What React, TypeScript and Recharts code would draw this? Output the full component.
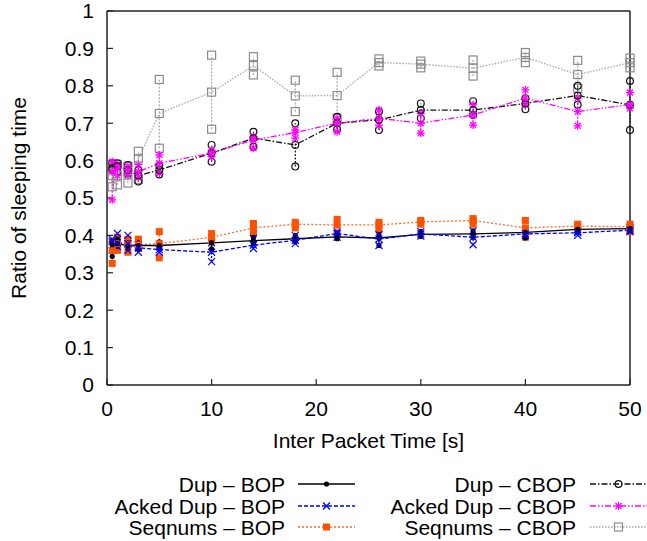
import React from 'react';
import { ComposedChart, Line, Scatter, XAxis, YAxis, ErrorBar } from 'recharts';

const xValues = [0.5, 1, 2, 3, 5, 10, 14, 18, 22, 26, 30, 35, 40, 45, 50];
const xTicks = [0, 10, 20, 30, 40, 50];
const yTicks = [0, 0.1, 0.2, 0.3, 0.4, 0.5, 0.6, 0.7, 0.8, 0.9, 1];
const yTickLabels = ['0', '0.1', '0.2', '0.3', '0.4', '0.5', '0.6', '0.7', '0.8', '0.9', '1'];

// Dup – BOP
const dupBopMid = [0.375, 0.378, 0.372, 0.373, 0.373, 0.38, 0.386, 0.391, 0.396, 0.393, 0.403, 0.404, 0.408, 0.416, 0.418];
const dupBopLow = [0.344, 0.37, 0.365, 0.365, 0.365, 0.364, 0.378, 0.383, 0.391, 0.373, 0.397, 0.395, 0.393, 0.41, 0.412];
const dupBopHigh = [0.385, 0.39, 0.38, 0.38, 0.383, 0.385, 0.395, 0.4, 0.405, 0.402, 0.41, 0.412, 0.413, 0.42, 0.421];

// Acked Dup – BOP
const ackBopMid = [0.384, 0.38, 0.378, 0.367, 0.362, 0.355, 0.374, 0.387, 0.405, 0.39, 0.404, 0.395, 0.404, 0.407, 0.414];
const ackBopLow = [0.36, 0.37, 0.36, 0.355, 0.355, 0.33, 0.365, 0.378, 0.395, 0.373, 0.398, 0.375, 0.4, 0.4, 0.41];
const ackBopHigh = [0.39, 0.405, 0.4, 0.375, 0.37, 0.38, 0.392, 0.4, 0.41, 0.402, 0.41, 0.412, 0.412, 0.41, 0.42];

// Seqnums – BOP
const seqBopMid = [0.36, 0.378, 0.375, 0.375, 0.378, 0.395, 0.42, 0.43, 0.428, 0.428, 0.436, 0.44, 0.42, 0.425, 0.423];
const seqBopLow = [0.325, 0.36, 0.355, 0.365, 0.34, 0.385, 0.405, 0.42, 0.405, 0.415, 0.43, 0.43, 0.395, 0.415, 0.41];
const seqBopHigh = [0.385, 0.395, 0.39, 0.39, 0.41, 0.405, 0.432, 0.435, 0.443, 0.435, 0.44, 0.445, 0.44, 0.43, 0.43];

// Dup – CBOP
const dupCbopMid = [0.58, 0.585, 0.575, 0.56, 0.575, 0.62, 0.66, 0.642, 0.7, 0.709, 0.735, 0.735, 0.753, 0.774, 0.749];
const dupCbopLow = [0.575, 0.57, 0.565, 0.544, 0.563, 0.597, 0.637, 0.584, 0.684, 0.682, 0.713, 0.722, 0.737, 0.749, 0.682];
const dupCbopHigh = [0.593, 0.593, 0.588, 0.575, 0.586, 0.642, 0.677, 0.7, 0.717, 0.731, 0.753, 0.759, 0.767, 0.8, 0.813];

// Acked Dup – CBOP
const ackCbopMid = [0.57, 0.58, 0.575, 0.57, 0.593, 0.62, 0.655, 0.675, 0.7, 0.713, 0.7, 0.722, 0.767, 0.731, 0.75];
const ackCbopLow = [0.495, 0.56, 0.56, 0.555, 0.566, 0.61, 0.633, 0.66, 0.677, 0.695, 0.673, 0.695, 0.749, 0.693, 0.74];
const ackCbopHigh = [0.597, 0.59, 0.585, 0.59, 0.615, 0.628, 0.664, 0.682, 0.713, 0.735, 0.726, 0.749, 0.789, 0.767, 0.782];

// Seqnums – CBOP
const seqCbopMid = [0.56, 0.56, 0.565, 0.605, 0.726, 0.783, 0.854, 0.773, 0.774, 0.862, 0.858, 0.847, 0.876, 0.83, 0.862];
const seqCbopLow = [0.53, 0.535, 0.54, 0.55, 0.633, 0.684, 0.829, 0.731, 0.713, 0.853, 0.848, 0.826, 0.862, 0.793, 0.848];
const seqCbopHigh = [0.59, 0.59, 0.585, 0.625, 0.817, 0.882, 0.878, 0.815, 0.836, 0.872, 0.866, 0.869, 0.889, 0.868, 0.874];

type Marker = 'dot' | 'cross' | 'fsquare' | 'ocircle' | 'star' | 'osquare';

interface SeriesDef {
  key: string;
  name: string;
  color: string;
  lineColor: string;
  dash?: string;
  marker: Marker;
  mid: number[];
  low: number[];
  high: number[];
}

const SERIES: SeriesDef[] = [
  { key: 'seqCbop', name: 'Seqnums – CBOP', color: '#8c8c8c', lineColor: '#a8a8a8', dash: '1.5 1.5', marker: 'osquare', mid: seqCbopMid, low: seqCbopLow, high: seqCbopHigh },
  { key: 'dupCbop', name: 'Dup – CBOP', color: '#111111', lineColor: '#111111', dash: '6 2 1.5 2', marker: 'ocircle', mid: dupCbopMid, low: dupCbopLow, high: dupCbopHigh },
  { key: 'ackCbop', name: 'Acked Dup – CBOP', color: '#ff00ff', lineColor: '#ff00ff', dash: '6 2 1.5 2 1.5 2', marker: 'star', mid: ackCbopMid, low: ackCbopLow, high: ackCbopHigh },
  { key: 'seqBop', name: 'Seqnums – BOP', color: '#ff5000', lineColor: '#ff6a30', dash: '2 2', marker: 'fsquare', mid: seqBopMid, low: seqBopLow, high: seqBopHigh },
  { key: 'dupBop', name: 'Dup – BOP', color: '#000000', lineColor: '#000000', marker: 'dot', mid: dupBopMid, low: dupBopLow, high: dupBopHigh },
  { key: 'ackBop', name: 'Acked Dup – BOP', color: '#0000ff', lineColor: '#0000ff', dash: '4 2', marker: 'cross', mid: ackBopMid, low: ackBopLow, high: ackBopHigh },
];

const LEGEND_COL1 = ['dupBop', 'ackBop', 'seqBop'];
const LEGEND_COL2 = ['dupCbop', 'ackCbop', 'seqCbop'];

const data = xValues.map((x, i) => {
  const row: Record<string, any> = { x };
  SERIES.forEach((s) => {
    row[s.key] = s.mid[i];
    row[s.key + 'Lo'] = s.low[i];
    row[s.key + 'Hi'] = s.high[i];
    row[s.key + 'Err'] = [s.mid[i] - s.low[i], s.high[i] - s.mid[i]];
  });
  return row;
});

const FONT = '"Liberation Sans", Arial, Helvetica, sans-serif';

function drawMarker(m: Marker, cx: number, cy: number, color: string, key?: string) {
  if (cx == null || cy == null || isNaN(cx) || isNaN(cy)) return <g key={key} />;
  switch (m) {
    case 'dot':
      return <circle key={key} cx={cx} cy={cy} r={2.6} fill={color} />;
    case 'cross':
      return (
        <g key={key} stroke={color} strokeWidth={1.2}>
          <line x1={cx - 3.5} y1={cy - 3.5} x2={cx + 3.5} y2={cy + 3.5} />
          <line x1={cx - 3.5} y1={cy + 3.5} x2={cx + 3.5} y2={cy - 3.5} />
        </g>
      );
    case 'fsquare':
      return <rect key={key} x={cx - 3.5} y={cy - 3.5} width={7} height={7} fill={color} />;
    case 'ocircle':
      return <circle key={key} cx={cx} cy={cy} r={3.4} fill="none" stroke={color} strokeWidth={1.2} />;
    case 'star':
      return (
        <g key={key} stroke={color} strokeWidth={1.3}>
          <line x1={cx - 4} y1={cy} x2={cx + 4} y2={cy} />
          <line x1={cx} y1={cy - 4} x2={cx} y2={cy + 4} />
          <line x1={cx - 3} y1={cy - 3} x2={cx + 3} y2={cy + 3} />
          <line x1={cx - 3} y1={cy + 3} x2={cx + 3} y2={cy - 3} />
        </g>
      );
    case 'osquare':
    default:
      return <rect key={key} x={cx - 4} y={cy - 4} width={8} height={8} fill="none" stroke={color} strokeWidth={1.2} />;
  }
}

const tickStyle = { fontFamily: FONT, fontSize: 21, fill: '#000' };

function Legend() {
  const rowsY = [16, 38, 59];
  const renderCol = (keys: string[], textEnd: number, x1: number, x2: number) =>
    keys.map((k, i) => {
      const s = SERIES.find((d) => d.key === k)!;
      const y = rowsY[i];
      return (
        <g key={k}>
          <text x={textEnd} y={y} textAnchor="end" dominantBaseline="central" style={{ fontFamily: FONT, fontSize: 21 }} fill="#000">
            {s.name}
          </text>
          <line x1={x1} y1={y} x2={x2} y2={y} stroke={s.lineColor} strokeWidth={1.3} strokeDasharray={s.dash} />
          {drawMarker(s.marker, (x1 + x2) / 2, y, s.color)}
        </g>
      );
    });
  return (
    <svg width={647} height={72} style={{ position: 'absolute', left: 0, top: 468 }}>
      {renderCol(LEGEND_COL1, 285, 298, 355)}
      {renderCol(LEGEND_COL2, 576, 590, 647)}
    </svg>
  );
}

export default function App() {
  return (
    <div style={{ position: 'fixed', left: 0, top: 0, width: 647, height: 541, background: '#fff' }}>
      <ComposedChart width={647} height={541} data={data} margin={{ top: 0, right: 0, bottom: 0, left: 0 }}>
        <XAxis
          dataKey="x"
          type="number"
          domain={[0, 50]}
          ticks={xTicks}
          interval={0}
          height={156}
          tickSize={-6}
          tickMargin={22}
          tick={tickStyle}
          axisLine={{ stroke: '#222', strokeWidth: 1.5 }}
          tickLine={{ stroke: '#222', strokeWidth: 1.2 }}
          label={{
            content: (p: any) => {
              const vb = p.viewBox || { x: 107, y: 385, width: 523 };
              return (
                <text x={vb.x + vb.width / 2} y={vb.y + 55} textAnchor="middle" dominantBaseline="central" style={{ fontFamily: FONT, fontSize: 21 }} fill="#000">
                  Inter Packet Time [s]
                </text>
              );
            },
          }}
        />
        <XAxis
          xAxisId="top"
          orientation="top"
          type="number"
          domain={[0, 50]}
          ticks={xTicks}
          interval={0}
          height={11}
          tickSize={-6}
          tick={false}
          axisLine={{ stroke: '#222', strokeWidth: 1.5 }}
          tickLine={{ stroke: '#222', strokeWidth: 1.2 }}
        />
        <YAxis
          type="number"
          domain={[0, 1]}
          ticks={yTicks}
          interval={0}
          width={107}
          tickSize={-6}
          tickMargin={19}
          tick={tickStyle}
          tickFormatter={(v: number) => yTickLabels[yTicks.findIndex((t) => Math.abs(t - v) < 1e-9)] ?? String(v)}
          axisLine={{ stroke: '#222', strokeWidth: 1.5 }}
          tickLine={{ stroke: '#222', strokeWidth: 1.2 }}
          label={{
            content: (p: any) => {
              const vb = p.viewBox || { x: 0, y: 11, height: 374 };
              const cx = vb.x + 18;
              const cy = vb.y + vb.height / 2;
              return (
                <text x={cx} y={cy} transform={`rotate(-90, ${cx}, ${cy})`} textAnchor="middle" dominantBaseline="central" style={{ fontFamily: FONT, fontSize: 21 }} fill="#000">
                  Ratio of sleeping time
                </text>
              );
            },
          }}
        />
        <YAxis
          yAxisId="right"
          orientation="right"
          type="number"
          domain={[0, 1]}
          ticks={yTicks}
          interval={0}
          width={17}
          tickSize={-6}
          tick={false}
          axisLine={{ stroke: '#222', strokeWidth: 1.5 }}
          tickLine={{ stroke: '#222', strokeWidth: 1.2 }}
        />
        {SERIES.map((s) => (
          <Line
            key={s.key}
            dataKey={s.key}
            type="linear"
            stroke={s.lineColor}
            strokeWidth={1.3}
            strokeDasharray={s.dash}
            isAnimationActive={false}
            activeDot={false}
            dot={(p: any) => drawMarker(s.marker, p.cx, p.cy, s.color, `${s.key}-d-${p.index}`)}
          >
            <ErrorBar dataKey={s.key + 'Err'} direction="y" width={0} stroke={s.lineColor} strokeWidth={1.2} strokeDasharray={s.dash ? '2 1.5' : undefined} isAnimationActive={false} />
          </Line>
        ))}
        {SERIES.map((s) => (
          <Scatter
            key={s.key + 'Lo'}
            dataKey={s.key + 'Lo'}
            isAnimationActive={false}
            shape={(p: any) => drawMarker(s.marker, p.cx, p.cy, s.color)}
          />
        ))}
        {SERIES.map((s) => (
          <Scatter
            key={s.key + 'Hi'}
            dataKey={s.key + 'Hi'}
            isAnimationActive={false}
            shape={(p: any) => drawMarker(s.marker, p.cx, p.cy, s.color)}
          />
        ))}
      </ComposedChart>
      <Legend />
    </div>
  );
}
